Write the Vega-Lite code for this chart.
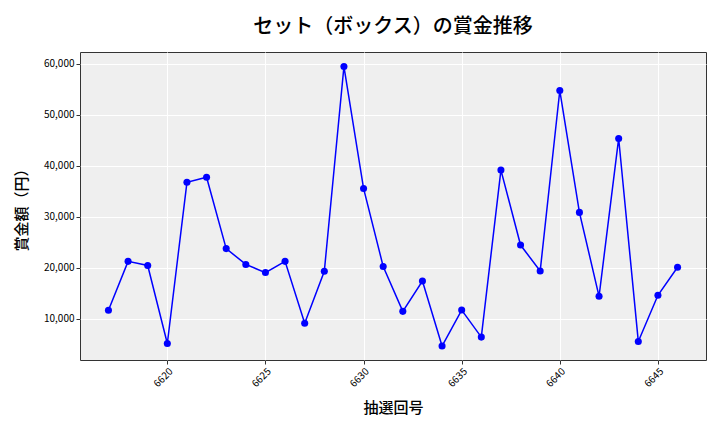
{
  "$schema": "https://vega.github.io/schema/vega-lite/v6.json",
  "width": 626,
  "height": 308,
  "autosize": {"type": "none"},
  "padding": {"left": 80, "top": 52, "right": 14, "bottom": 72},
  "background": "white",
  "title": {
    "text": "セット（ボックス）の賞金推移",
    "font": "Noto Sans CJK JP",
    "fontSize": 20,
    "fontWeight": 500,
    "color": "#000000",
    "anchor": "middle",
    "offset": 15
  },
  "config": {
    "view": {"fill": "#efefef", "stroke": "#333333", "strokeWidth": 1},
    "axis": {
      "labelFont": "Noto Sans CJK JP",
      "titleFont": "Noto Sans CJK JP",
      "labelColor": "#000000",
      "titleColor": "#000000",
      "gridColor": "#ffffff",
      "gridWidth": 1,
      "domain": false,
      "tickColor": "#333333",
      "tickSize": 4,
      "labelFontSize": 10
    }
  },
  "data": {
    "values": [
      {"round": 6617, "prize": 11700},
      {"round": 6618, "prize": 21300},
      {"round": 6619, "prize": 20500},
      {"round": 6620, "prize": 5200},
      {"round": 6621, "prize": 36800},
      {"round": 6622, "prize": 37800},
      {"round": 6623, "prize": 23800},
      {"round": 6624, "prize": 20700},
      {"round": 6625, "prize": 19100},
      {"round": 6626, "prize": 21300},
      {"round": 6627, "prize": 9150},
      {"round": 6628, "prize": 19350},
      {"round": 6629, "prize": 59500},
      {"round": 6630, "prize": 35600},
      {"round": 6631, "prize": 20300},
      {"round": 6632, "prize": 11500},
      {"round": 6633, "prize": 17450},
      {"round": 6634, "prize": 4700},
      {"round": 6635, "prize": 11750},
      {"round": 6636, "prize": 6450},
      {"round": 6637, "prize": 39200},
      {"round": 6638, "prize": 24500},
      {"round": 6639, "prize": 19400},
      {"round": 6640, "prize": 54800},
      {"round": 6641, "prize": 30900},
      {"round": 6642, "prize": 14450},
      {"round": 6643, "prize": 45400},
      {"round": 6644, "prize": 5600},
      {"round": 6645, "prize": 14650},
      {"round": 6646, "prize": 20150}
    ]
  },
  "encoding": {
    "x": {
      "field": "round",
      "type": "quantitative",
      "scale": {"domain": [6615.55, 6647.45], "nice": false, "zero": false},
      "axis": {
        "title": "抽選回号",
        "titleFontSize": 15,
        "titleFontWeight": 500,
        "titlePadding": 12,
        "values": [6620, 6625, 6630, 6635, 6640, 6645],
        "format": "d",
        "labelAngle": -45,
        "labelAlign": "right",
        "labelBaseline": "top",
        "labelFontSize": 10
      }
    },
    "y": {
      "field": "prize",
      "type": "quantitative",
      "scale": {"domain": [1960, 62350], "nice": false, "zero": false},
      "axis": {
        "title": "賞金額（円）",
        "titleFontSize": 15,
        "titleFontWeight": 500,
        "titlePadding": 14,
        "values": [10000, 20000, 30000, 40000, 50000, 60000],
        "format": ",d",
        "labelFontSize": 10
      }
    }
  },
  "layer": [
    {"mark": {"type": "line", "color": "#0000ff", "strokeWidth": 1.5}},
    {"mark": {"type": "point", "filled": true, "color": "#0000ff", "size": 50, "opacity": 1}}
  ]
}
